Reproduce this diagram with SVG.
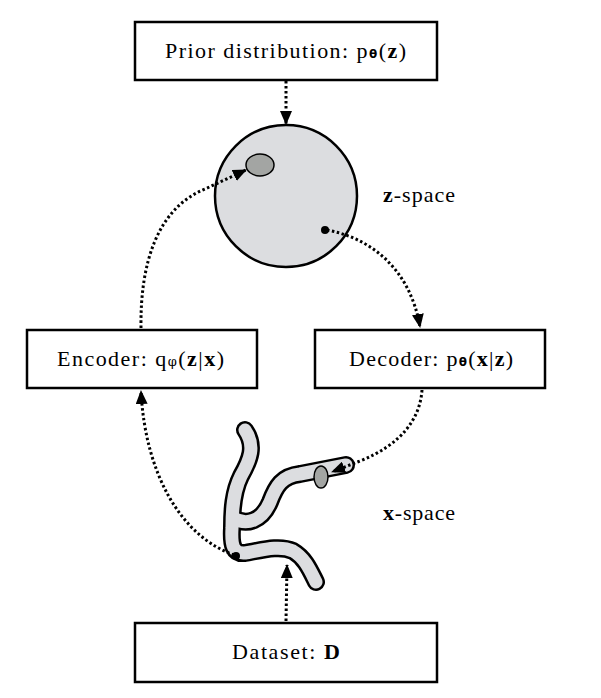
<svg xmlns="http://www.w3.org/2000/svg" width="601" height="698" viewBox="0 0 601 698">
<style>
.box{fill:#fff;stroke:#000;stroke-width:2.5}
.lbl{font-family:"Liberation Serif","DejaVu Serif",serif;font-size:22px;fill:#000}
.b{font-weight:bold}
.g{font-family:"DejaVu Sans","Liberation Sans",sans-serif;font-weight:bold;font-size:12px;fill:#000}
.phi{font-family:"DejaVu Serif","Liberation Serif",serif;font-size:13px;fill:#000}
.conn{fill:none;stroke:#000;stroke-width:3;stroke-dasharray:2.5 2.5}
</style>
<defs>
<marker id="ah" viewBox="0 0 14 12" refX="13" refY="6" markerWidth="14" markerHeight="12" markerUnits="userSpaceOnUse" orient="auto">
<path d="M0,0 L14,6 L0,12 Z" fill="#000"/>
</marker>
</defs>
<rect width="601" height="698" fill="#fff"/>
<g id="zspace">
<circle cx="286" cy="196" r="71" fill="#dcdde0" stroke="#000" stroke-width="2.5"/>
<ellipse cx="260" cy="165" rx="14" ry="11" fill="#a3a5a3" stroke="#000" stroke-width="1.5"/>
<circle cx="325" cy="230" r="4" fill="#000"/>
</g>
<g id="xspace">
<g fill="none" stroke="#000" stroke-width="18" stroke-linecap="round" stroke-linejoin="round">
<path d="M245,430 C256,446 250,460 241,476 C233,492 232,510 232,528 C231,545 233,554 245,553 C262,550 280,545 293,551 C305,558 310,570 316,582"/>
<path d="M233,518 C247,526 262,521 270,502 C276,486 282,476 300,474 L346,465"/>
</g>
<g fill="none" stroke="#dcdde0" stroke-width="13" stroke-linecap="round" stroke-linejoin="round">
<path d="M245,430 C256,446 250,460 241,476 C233,492 232,510 232,528 C231,545 233,554 245,553 C262,550 280,545 293,551 C305,558 310,570 316,582"/>
<path d="M233,518 C247,526 262,521 270,502 C276,486 282,476 300,474 L346,465"/>
</g>
<ellipse cx="321" cy="477" rx="7" ry="11" fill="#a3a5a3" stroke="#000" stroke-width="1.5"/>
<circle cx="236" cy="556" r="4" fill="#000"/>
</g>
<g id="connectors">
<path class="conn" d="M286,81 L286,124" marker-end="url(#ah)"/>
<path class="conn" d="M141,328 C140,262 158,208 205,189 L246,170" marker-end="url(#ah)"/>
<path class="conn" d="M327,230 C370,238 410,268 420,327" marker-end="url(#ah)"/>
<path class="conn" d="M422,390 C420,420 400,445 360,461 L332,472" marker-end="url(#ah)"/>
<path class="conn" d="M234,555 C180,536 145,472 141,391" marker-end="url(#ah)"/>
<path class="conn" d="M286,621 L287,565" marker-end="url(#ah)"/>
</g>
<g id="prior">
<rect class="box" x="135" y="22" width="302" height="58"/>
<text class="lbl" x="165" y="58" textLength="241" lengthAdjust="spacing">Prior distribution: p<tspan class="g">θ</tspan>(<tspan class="b">z</tspan>)</text>
</g>
<g id="encoder">
<rect class="box" x="27" y="330" width="230" height="58"/>
<text class="lbl" x="57" y="366" textLength="167" lengthAdjust="spacing">Encoder: q<tspan class="phi">φ</tspan>(<tspan class="b">z</tspan>|<tspan class="b">x</tspan>)</text>
</g>
<g id="decoder">
<rect class="box" x="315" y="330" width="230" height="58"/>
<text class="lbl" x="349" y="366" textLength="164" lengthAdjust="spacing">Decoder: p<tspan class="g">θ</tspan>(<tspan class="b">x</tspan>|<tspan class="b">z</tspan>)</text>
</g>
<g id="dataset">
<rect class="box" x="135" y="623" width="302" height="59"/>
<text class="lbl" x="232" y="659" textLength="108" lengthAdjust="spacing">Dataset: <tspan class="b">D</tspan></text>
</g>
<g id="labels">
<text class="lbl" x="383" y="202" textLength="72" lengthAdjust="spacing"><tspan class="b">z</tspan>-space</text>
<text class="lbl" x="383" y="520" textLength="72" lengthAdjust="spacing"><tspan class="b">x</tspan>-space</text>
</g>
</svg>
